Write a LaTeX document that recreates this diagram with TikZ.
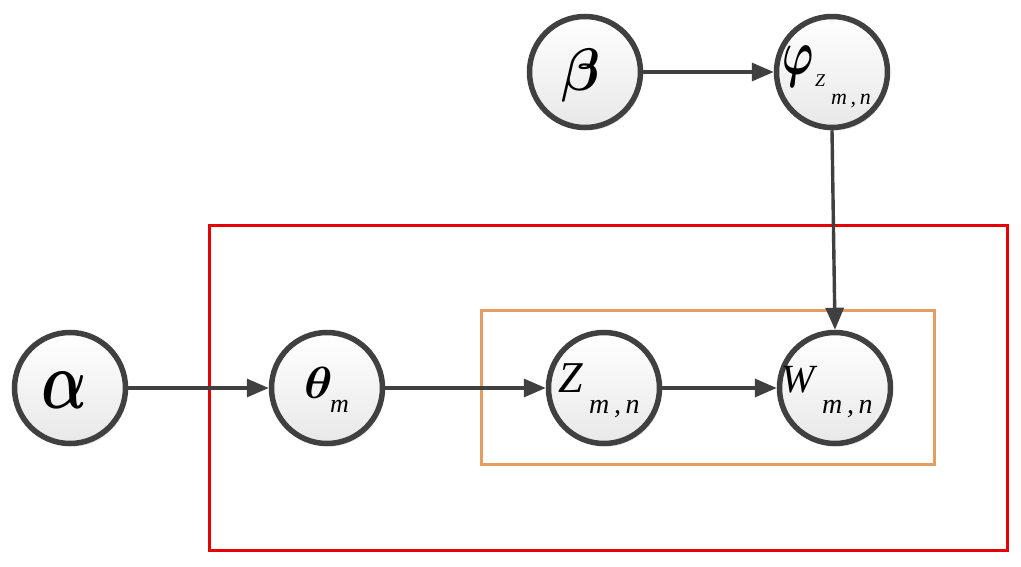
\documentclass[tikz,border=0pt]{standalone}
\usepackage{fontspec}
\usepackage{graphicx}
\setmainfont{Liberation Serif}
\usetikzlibrary{arrows.meta,shadows}
\definecolor{edge}{RGB}{64,64,64}
\definecolor{plateR}{RGB}{230,0,0}
\definecolor{plateO}{RGB}{228,158,98}
\tikzset{
  var/.style={circle,draw=edge,line width=5.5pt,minimum size=111pt,inner sep=0pt,
    top color=white,bottom color=black!9,
    drop shadow={shadow xshift=2pt,shadow yshift=-3pt,fill=black!25,opacity=0.5}},
  arr/.style={draw=edge,line width=3.4pt,-{Triangle[length=22pt,width=18pt]}},
  sym/.style={anchor=base west,inner sep=0pt,font=\itshape},
}
\newcommand{\fs}[1]{\fontsize{#1}{#1}\selectfont}
\newcommand{\bm}[1]{{\boldmath$#1$}}
\begin{document}
\begin{tikzpicture}[x=1pt,y=-1pt]
\useasboundingbox (0,0) rectangle (1021,567);
% plates
\draw[plateR,line width=3pt] (209,226) rectangle (1007,550);
\draw[plateO,line width=3pt] (481,310) rectangle (934,464);
% variables
\node[var] (b) at (585,72) {};
\node[var] (p) at (832,72) {};
\node[var] (a) at (70,388) {};
\node[var] (t) at (327,388) {};
\node[var] (z) at (604,388) {};
\node[var] (w) at (835,388) {};
% labels
\node[sym] (la) at (41,408) {\scalebox{6.0}[8.2]{\bm{\alpha}}};
\node[sym] (lb) at (561,91) {\scalebox{5.6}[6.0]{\bm{\beta}}};
\node[sym] (lt) at (304,398) {\scalebox{4.8}[4.5]{\bm{\theta}}};
\node[sym,font=\itshape\fs{26}] (lts) at (330,412) {m};
\node[sym,font=\itshape\fs{44}] (lz) at (558,392) {Z};
\node[sym,font=\itshape\fs{28}] (lzs) at (589,413) {m\,,\,n};
\node[sym,font=\itshape\fs{40}] (lw) at (781,392) {W};
\node[sym,font=\itshape\fs{28}] (lws) at (822,413) {m\,,\,n};
\node[sym] (lp) at (782,75) {\scalebox{4.2}[6.4]{\bm{\varphi}}};
\node[sym,font=\itshape\fs{18}] (lps) at (815,87) {Z};
\node[sym,font=\itshape\fs{22}] (lpss) at (831,105) {m\,,\,n};
% connectors
\draw[arr] (a) -- (t);
\draw[arr] (t) -- (z);
\draw[arr] (z) -- (w);
\draw[arr] (b) -- (p);
\draw[arr] (p.south) -- (w.north);
\end{tikzpicture}
\end{document}
